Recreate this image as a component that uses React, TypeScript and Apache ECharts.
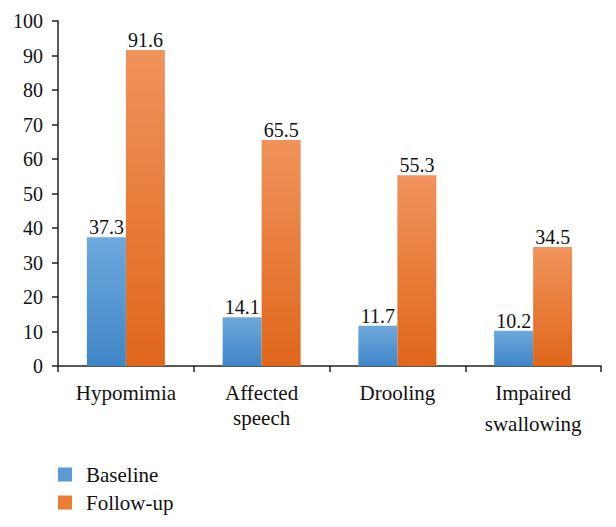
import React, { useEffect, useRef } from "react";
import * as echarts from "echarts";

const categories = ["Hypomimia", "Affected\nspeech", "Drooling", "Impaired\nswallowing"];
const baseline = [37.3, 14.1, 11.7, 10.2];
const followUp = [91.6, 65.5, 55.3, 34.5];
const seriesNames = ["Baseline", "Follow-up"];
const yTicks = [0, 10, 20, 30, 40, 50, 60, 70, 80, 90, 100];

const FONT = "Liberation Serif";

export default function App() {
  const ref = useRef<HTMLDivElement>(null);
  useEffect(() => {
    if (!ref.current) return;
    const chart = echarts.init(ref.current, undefined, { renderer: "svg" });
    const grad = (top: string, bottom: string) =>
      new echarts.graphic.LinearGradient(0, 0, 0, 1, [
        { offset: 0, color: top },
        { offset: 1, color: bottom },
      ]);
    const label = {
      show: true,
      position: "top" as const,
      distance: 0,
      color: "#111",
      fontFamily: FONT,
      fontSize: 20,
    };
    const catData = categories.map((c) =>
      c.startsWith("Impaired")
        ? { value: c, textStyle: { fontFamily: FONT, fontSize: 21, lineHeight: 31, padding: [0, 0, 0, 0] } }
        : { value: c, textStyle: { fontFamily: FONT, fontSize: 21, lineHeight: 25, padding: [3, 0, 0, 0] } }
    );
    chart.setOption({
      animation: false,
      textStyle: { fontFamily: FONT, fontSize: 20 },
      grid: { left: 50, right: 7, top: 13, bottom: 153, containLabel: false },
      legend: {
        orient: "vertical",
        left: 50,
        top: 456,
        padding: 0,
        itemWidth: 14,
        itemHeight: 14,
        itemGap: 7,
        textStyle: { fontFamily: FONT, fontSize: 21, lineHeight: 21, color: "#111", padding: [0, 0, 0, 9] },
        data: [
          { name: seriesNames[0], icon: "rect", itemStyle: { color: "#5a9ad6" } },
          { name: seriesNames[1], icon: "rect", itemStyle: { color: "#ec7d35" } },
        ],
      },
      xAxis: {
        type: "category",
        data: catData,
        axisLine: { lineStyle: { color: "#222", width: 1.5 } },
        axisTick: { show: true, length: 6, inside: false, alignWithLabel: false, lineStyle: { color: "#222", width: 1.5 } },
        axisLabel: { color: "#111", fontFamily: FONT, fontSize: 21, lineHeight: 25, margin: 11, interval: 0 },
      },
      yAxis: {
        type: "value",
        min: yTicks[0],
        max: yTicks[yTicks.length - 1],
        interval: yTicks[1] - yTicks[0],
        axisLine: { show: true, lineStyle: { color: "#222", width: 1.5 } },
        axisTick: { show: true, length: 6, lineStyle: { color: "#222", width: 1.5 } },
        splitLine: { show: false },
        axisLabel: { color: "#111", fontFamily: FONT, fontSize: 20, margin: 15 },
      },
      series: [
        {
          name: seriesNames[0],
          type: "bar",
          data: baseline,
          barWidth: 39,
          barGap: "0%",
          itemStyle: { color: grad("#6ea8dd", "#3f86c7") },
          label,
        },
        {
          name: seriesNames[1],
          type: "bar",
          data: followUp,
          barWidth: 39,
          barGap: "0%",
          itemStyle: { color: grad("#f0935c", "#e0661a") },
          label,
        },
      ],
    });
    return () => chart.dispose();
  }, []);
  return <div ref={ref} style={{ width: 600, height: 511, fontFamily: FONT }} />;
}
